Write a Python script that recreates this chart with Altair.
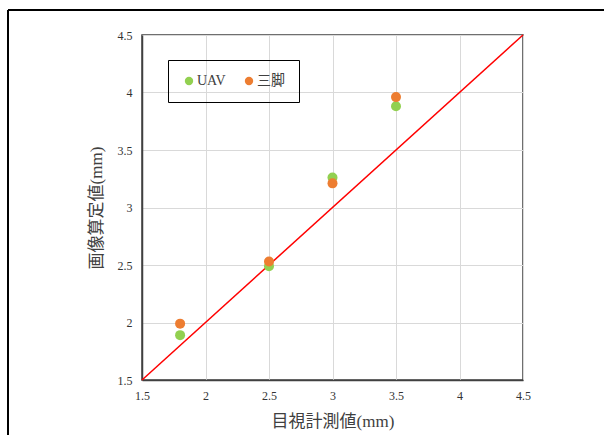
import altair as alt
import pandas as pd

x_vals = [1.8, 2.5, 3.0, 3.5]
uav = [1.89, 2.49, 3.26, 3.88]
tripod = [1.99, 2.53, 3.21, 3.96]
series = ["UAV", "三脚"]
colors = ["#92D050", "#ED7D31"]
ticks = [1.5, 2, 2.5, 3, 3.5, 4, 4.5]
line_x = [1.5, 4.5]

rows = []
for x, a, b in zip(x_vals, uav, tripod):
    rows.append({"x": x, "y": a, "s": series[0]})
    rows.append({"x": x, "y": b, "s": series[1]})
df = pd.DataFrame(rows)
line_df = pd.DataFrame({"x": line_x, "y": line_x})

FONT = "Liberation Serif, Noto Sans CJK JP"

xs = alt.Scale(domain=[1.5, 4.5], nice=False, zero=False)
ys = alt.Scale(domain=[1.5, 4.5], nice=False, zero=False)

xaxis = alt.Axis(values=ticks, title="目視計測値(mm)", grid=True, ticks=False,
                 labelFlush=False, labelPadding=10, titlePadding=12,
                 labelExpr="datum.value")
yaxis = alt.Axis(values=ticks, title="画像算定値(mm)", grid=True, ticks=False,
                 labelPadding=10, titlePadding=12, labelFlush=False,
                 labelExpr="datum.value")

line = alt.Chart(line_df).mark_line(color="#FF0000", strokeWidth=1.5).encode(
    x=alt.X("x:Q", scale=xs, axis=xaxis),
    y=alt.Y("y:Q", scale=ys, axis=yaxis),
)

pts = alt.Chart(df).mark_circle(size=100, opacity=1).encode(
    x=alt.X("x:Q", scale=xs),
    y=alt.Y("y:Q", scale=ys),
    color=alt.Color("s:N", scale=alt.Scale(domain=series, range=colors),
                    legend=alt.Legend(title=None, orient="none", legendX=26, legendY=25,
                                      direction="horizontal", strokeColor="#000000",
                                      padding=14, columnPadding=16, symbolSize=70,
                                      symbolType="circle", labelFontSize=14,
                                      labelFont=FONT, labelColor="#404040",
                                      labelOffset=1)),
)

frame_top = alt.Chart().mark_rule(color="#000000", strokeWidth=2).encode(
    x=alt.value(-134), x2=alt.value(470), y=alt.value(-25))
frame_left = alt.Chart().mark_rule(color="#000000", strokeWidth=2).encode(
    x=alt.value(-134), y=alt.value(-25), y2=alt.value(410))

chart = alt.layer(line, pts, frame_top, frame_left).properties(
    width=381, height=345,
    background="white",
    autosize=alt.AutoSizeParams(type="none"),
    padding={"left": 142, "top": 35, "right": 81, "bottom": 55},
).configure_view(stroke="#404040", strokeWidth=1.5).configure_axis(
    labelFont=FONT, titleFont=FONT, labelFontSize=12, titleFontSize=17,
    labelColor="#333333", titleColor="#404040", titleFontWeight="normal",
    gridColor="#d9d9d9", domainColor="#404040", domainWidth=1.5,
)

chart.save("out.html", embed_options={"renderer": "svg", "actions": False})
